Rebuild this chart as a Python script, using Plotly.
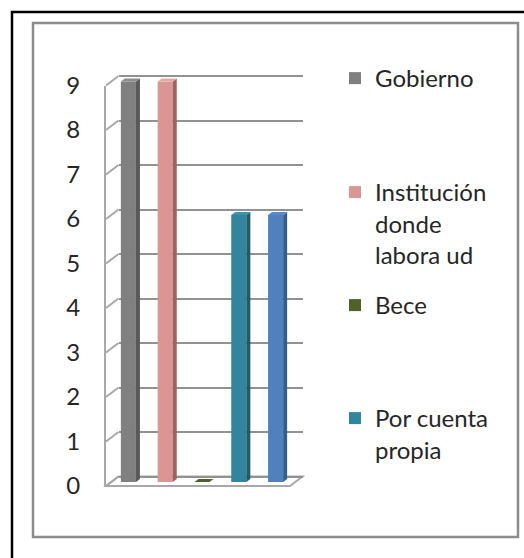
import plotly.graph_objects as go

# ---- datos ----
categorias = ["Gobierno", "Institución donde labora ud", "Bece", "Por cuenta propia", "Otros"]
textos_leyenda = ["Gobierno", "Institución<br>donde<br>labora ud", "Bece", "Por cuenta<br>propia"]
valores = [9, 9, 0, 6, 6]
marcas_y = [0, 1, 2, 3, 4, 5, 6, 7, 8, 9]

# colores por serie: cara frontal, cara lateral, tapa
color_frente = ["#808080", "#d99694", "#4f6228", "#31859c", "#4f81bd"]
color_lado = ["#595959", "#9c6361", "#3a4a1c", "#215a6a", "#375d8c"]
color_tapa = ["#8c8c8c", "#e3a9a7", "#56692d", "#3c93ab", "#5a8bc6"]

# ---- geometría (píxeles del lienzo) ----
W, H = 524, 558
UNIDAD = 44.5          # píxeles por unidad del eje de valores
ANCHO_PLANO = 184      # ancho del plano de categorías
ANCHO_BARRA = 0.41
FRENTE = (106, 486)    # (x izquierda, y del cero) del borde frontal
BARRAS = (110, 482)    # plano de las caras frontales de las barras
FONDO = (118.5, 476.5) # pared del fondo
LEYENDA_X = 335
LEYENDA_Y = [76, 190, 303, 416]  # centro de la primera línea de cada entrada

FUENTE = dict(family="Lato", size=24, color="#262626")
GRIS_REJILLA = "#929292"
GRIS_PARED = "#a8a8a8"


def fx(p):
    return p / W


def fy(p):
    return 1 - p / H


def dominio_y(cero, lo, hi):
    return [fy(cero - lo * UNIDAD), fy(cero - hi * UNIDAD)]


def dominio_x(izq):
    return [fx(izq), fx(izq + ANCHO_PLANO)]


pos = list(range(len(categorias)))
fig = go.Figure()

# subgráficos auxiliares: pared del fondo (x, y) y borde frontal (x3, y3)
for ejes in (("x", "y"), ("x3", "y3")):
    fig.add_trace(go.Scatter(x=[None], y=[None], xaxis=ejes[0], yaxis=ejes[1],
                             mode="markers", showlegend=False, hoverinfo="skip"))

for i, v in enumerate(valores):
    ref = "legend" if i == 0 else f"legend{i + 1}"
    fig.add_trace(go.Bar(
        x=[pos[i]], y=[v],
        name=textos_leyenda[i] if i < len(textos_leyenda) else categorias[i],
        marker=dict(color=color_frente[i], line=dict(width=0)),
        width=ANCHO_BARRA,
        xaxis="x2", yaxis="y2",
        legend=ref if i < len(textos_leyenda) else "legend",
        showlegend=i < len(textos_leyenda),
        hoverinfo="skip",
    ))

shapes = []

# marcos exterior e interior
shapes.append(dict(type="rect", xref="paper", yref="paper",
                   x0=fx(12), y0=fy(12), x1=fx(540), y1=fy(575),
                   line=dict(color="#000000", width=2.5), fillcolor="rgba(0,0,0,0)"))
shapes.append(dict(type="rect", xref="paper", yref="paper",
                   x0=fx(33), y0=fy(23), x1=fx(518), y1=fy(537),
                   line=dict(color="#8c8c8c", width=2.5), fillcolor="rgba(0,0,0,0)"))

# suelo
fl, fz = FRENTE
bl, bz = FONDO
suelo = (f"M{fx(fl)},{fy(fz)} L{fx(fl + ANCHO_PLANO)},{fy(fz)} "
         f"L{fx(bl + ANCHO_PLANO)},{fy(bz)} L{fx(bl)},{fy(bz)} Z")
shapes.append(dict(type="path", xref="paper", yref="paper", path=suelo,
                   fillcolor="#ffffff", line=dict(color=GRIS_PARED, width=2), layer="below"))

# pared izquierda: diagonales de cada marca
for m in marcas_y:
    shapes.append(dict(type="line", xref="paper", yref="paper",
                       x0=fx(fl), y0=fy(fz - m * UNIDAD),
                       x1=fx(bl), y1=fy(bz - m * UNIDAD),
                       line=dict(color=GRIS_PARED, width=2), layer="below"))

# caras laterales y tapas de las barras
dx = 4 / (ANCHO_PLANO / len(categorias))
dy = 3 / UNIDAD
w2 = ANCHO_BARRA / 2
for i, v in enumerate(valores):
    x0, x1 = pos[i] - w2, pos[i] + w2
    if v > 0:
        lado = f"M{x1},0 L{x1 + dx},{dy} L{x1 + dx},{v + dy} L{x1},{v} Z"
        shapes.append(dict(type="path", xref="x2", yref="y2", path=lado,
                           fillcolor=color_lado[i], line=dict(width=0)))
    tapa = f"M{x0},{v} L{x1},{v} L{x1 + dx},{v + dy} L{x0 + dx},{v + dy} Z"
    shapes.append(dict(type="path", xref="x2", yref="y2", path=tapa,
                       fillcolor=color_tapa[i] if v > 0 else color_frente[i],
                       line=dict(width=0)))

oculto = dict(showgrid=False, zeroline=False, showticklabels=False, ticks="",
              showline=False, fixedrange=True, automargin=False)

layout = dict(
    width=W, height=H,
    margin=dict(l=0, r=0, t=0, b=0, pad=0, autoexpand=False),
    paper_bgcolor="#ffffff",
    plot_bgcolor="rgba(0,0,0,0)",
    barmode="overlay",
    font=FUENTE,
    shapes=shapes,
    # pared del fondo con la rejilla
    xaxis=dict(domain=dominio_x(FONDO[0]), range=[-0.5, 4.5], anchor="y", **oculto),
    yaxis=dict(domain=dominio_y(FONDO[1], -0.15, 9.15), range=[-0.15, 9.15], anchor="x",
               tickvals=marcas_y, showgrid=True, gridcolor=GRIS_REJILLA, gridwidth=2,
               zeroline=False, showticklabels=False, ticks="", showline=False,
               fixedrange=True, automargin=False),
    # plano de las barras
    xaxis2=dict(domain=dominio_x(BARRAS[0]), range=[-0.5, 4.5], anchor="y2", **oculto),
    yaxis2=dict(domain=dominio_y(BARRAS[1], 0, 9.2), range=[0, 9.2], anchor="x2", **oculto),
    # borde frontal con las etiquetas
    xaxis3=dict(domain=dominio_x(FRENTE[0]), range=[0, 1], anchor="y3", **oculto),
    yaxis3=dict(domain=dominio_y(FRENTE[1], 0, 9), range=[0, 9], anchor="x3",
                tickvals=marcas_y, showgrid=False, zeroline=False, ticks="",
                showline=True, linecolor=GRIS_PARED, linewidth=2,
                tickfont=FUENTE, ticklabelstandoff=19, fixedrange=True, automargin=False),
)

for k, yc in enumerate(LEYENDA_Y):
    nombre = "legend" if k == 0 else f"legend{k + 1}"
    layout[nombre] = dict(x=fx(LEYENDA_X), xanchor="left", y=fy(yc - 20), yanchor="top",
                          valign="top", font=FUENTE, bgcolor="rgba(0,0,0,0)",
                          borderwidth=0, itemclick=False, itemdoubleclick=False)

fig.update_layout(**layout)
fig.write_html("out.html", config={"displayModeBar": False})
